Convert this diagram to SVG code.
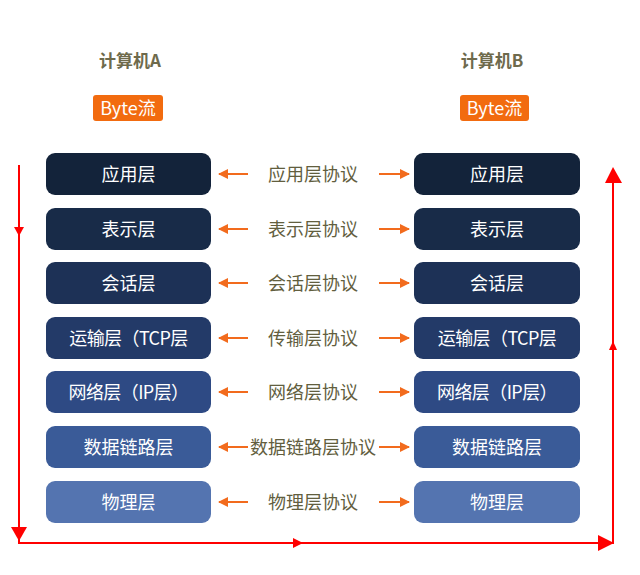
<svg xmlns="http://www.w3.org/2000/svg" width="640" height="575" viewBox="0 0 640 575">
<defs>
<style>
.hdr{font-family:"Noto Sans CJK SC","Noto Sans",sans-serif;font-size:17px;font-weight:700;fill:#6e6a4c;text-anchor:middle}
.byte{fill:#f26b0f}
.bt{font-family:"Noto Sans CJK SC","Noto Sans",sans-serif;font-size:18px;fill:#ffffff;text-anchor:middle}
.lt{font-family:"Noto Sans CJK SC","Noto Sans",sans-serif;font-size:18px;font-weight:400;fill:#ffffff;text-anchor:middle}
.pt{font-family:"Noto Sans CJK SC","Noto Sans",sans-serif;font-size:18px;font-weight:400;fill:#625e3e;text-anchor:middle}
.oa{stroke:#f26b1d;stroke-width:2;fill:none;marker-end:url(#oh)}
.rl{stroke:#ff0000;stroke-width:2;fill:none}
</style>
<marker id="oh" viewBox="0 0 10 10" refX="9" refY="5" markerWidth="5" markerHeight="5" orient="auto" markerUnits="strokeWidth">
<path d="M0,0 L10,5 L0,10 z" fill="#f26b1d"/>
</marker>
</defs>
<rect width="640" height="575" fill="#ffffff"/>

<g id="header-a">
<text class="hdr" x="130" y="67">计算机A</text>
<rect class="byte" x="93" y="95" width="70" height="26" rx="3"/>
<text class="bt" x="128" y="114.5">Byte流</text>
</g>
<g id="header-b">
<text class="hdr" x="492" y="67">计算机B</text>
<rect class="byte" x="460" y="95" width="69" height="26" rx="3"/>
<text class="bt" x="494.5" y="114.5">Byte流</text>
</g>

<g id="a-app"><rect x="46" y="153" width="165" height="42" rx="9" fill="#13233a"/><text class="lt" x="128.5" y="180.5">应用层</text></g>
<g id="a-pres"><rect x="46" y="208" width="165" height="42" rx="9" fill="#182b48"/><text class="lt" x="128.5" y="235.5">表示层</text></g>
<g id="a-sess"><rect x="46" y="262" width="165" height="42" rx="9" fill="#1d3156"/><text class="lt" x="128.5" y="289.5">会话层</text></g>
<g id="a-trans"><rect x="46" y="317" width="165" height="42" rx="9" fill="#233a68"/><text class="lt" x="128.5" y="344.5" letter-spacing="-0.6">运输层（TCP层</text></g>
<g id="a-net"><rect x="46" y="371" width="165" height="42" rx="9" fill="#2e4a84"/><text class="lt" x="128.5" y="398.5" letter-spacing="-0.6">网络层（IP层）</text></g>
<g id="a-link"><rect x="46" y="426" width="165" height="42" rx="9" fill="#3a5b98"/><text class="lt" x="128.5" y="453.5">数据链路层</text></g>
<g id="a-phy"><rect x="46" y="481" width="165" height="42" rx="9" fill="#5474b0"/><text class="lt" x="128.5" y="508.5">物理层</text></g>

<g id="b-app"><rect x="414" y="153" width="166" height="42" rx="9" fill="#13233a"/><text class="lt" x="497" y="180.5">应用层</text></g>
<g id="b-pres"><rect x="414" y="208" width="166" height="42" rx="9" fill="#182b48"/><text class="lt" x="497" y="235.5">表示层</text></g>
<g id="b-sess"><rect x="414" y="262" width="166" height="42" rx="9" fill="#1d3156"/><text class="lt" x="497" y="289.5">会话层</text></g>
<g id="b-trans"><rect x="414" y="317" width="166" height="42" rx="9" fill="#233a68"/><text class="lt" x="497" y="344.5" letter-spacing="-0.6">运输层（TCP层</text></g>
<g id="b-net"><rect x="414" y="371" width="166" height="42" rx="9" fill="#2e4a84"/><text class="lt" x="497" y="398.5" letter-spacing="-0.6">网络层（IP层）</text></g>
<g id="b-link"><rect x="414" y="426" width="166" height="42" rx="9" fill="#3a5b98"/><text class="lt" x="497" y="453.5">数据链路层</text></g>
<g id="b-phy"><rect x="414" y="481" width="166" height="42" rx="9" fill="#5474b0"/><text class="lt" x="497" y="508.5">物理层</text></g>

<g id="protocols">
<text class="pt" x="313" y="180.5">应用层协议</text>
<text class="pt" x="313" y="235.5">表示层协议</text>
<text class="pt" x="313" y="289.5">会话层协议</text>
<text class="pt" x="313" y="344.5">传输层协议</text>
<text class="pt" x="313" y="398.5">网络层协议</text>
<text class="pt" x="313" y="453.5">数据链路层协议</text>
<text class="pt" x="313" y="508.5">物理层协议</text>
</g>

<g id="connectors">
<line class="oa" x1="248" y1="174" x2="219" y2="174"/>
<line class="oa" x1="379" y1="174" x2="409" y2="174"/>
<line class="oa" x1="248" y1="229" x2="219" y2="229"/>
<line class="oa" x1="379" y1="229" x2="409" y2="229"/>
<line class="oa" x1="248" y1="283" x2="219" y2="283"/>
<line class="oa" x1="379" y1="283" x2="409" y2="283"/>
<line class="oa" x1="248" y1="338" x2="219" y2="338"/>
<line class="oa" x1="379" y1="338" x2="409" y2="338"/>
<line class="oa" x1="248" y1="392" x2="219" y2="392"/>
<line class="oa" x1="379" y1="392" x2="409" y2="392"/>
<line class="oa" x1="248" y1="447" x2="219" y2="447"/>
<line class="oa" x1="379" y1="447" x2="409" y2="447"/>
<line class="oa" x1="248" y1="502" x2="219" y2="502"/>
<line class="oa" x1="379" y1="502" x2="409" y2="502"/>

<polyline class="rl" points="19,165 19,543 613,543 613,180"/>
<polygon points="14,227 24,227 19,236" fill="#ff0000"/>
<polygon points="11,527 27,527 19,541" fill="#ff0000"/>
<polygon points="293,538 293,548 303,543" fill="#ff0000"/>
<polygon points="598,535 598,551 614,543" fill="#ff0000"/>
<polygon points="609,350 617,350 613,341" fill="#ff0000"/>
<polygon points="605,183 622,183 613,167" fill="#ff0000"/>
</g>
</svg>
